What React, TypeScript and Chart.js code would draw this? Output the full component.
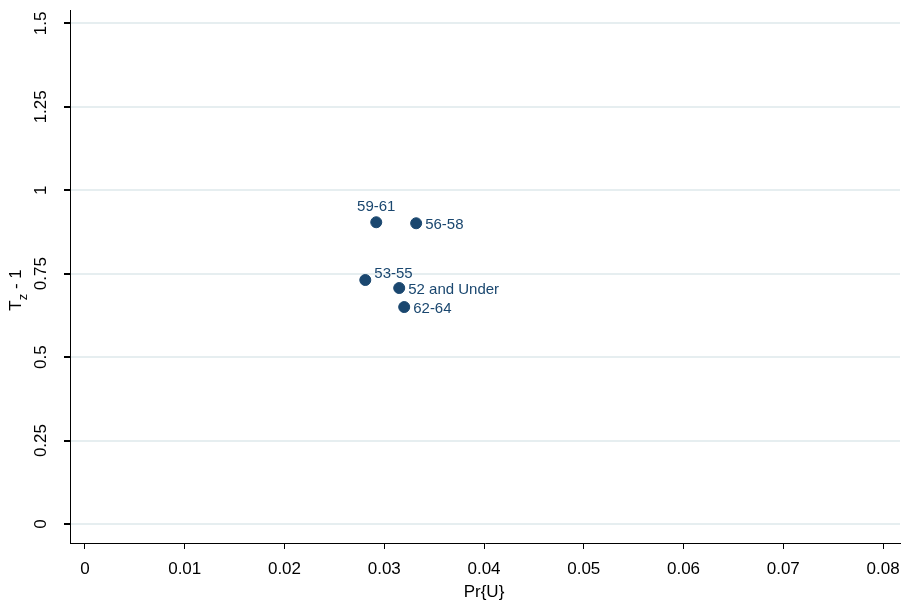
import { useEffect, useRef } from "react";
import { Chart, registerables } from "chart.js";

Chart.register(...registerables);

const groups = ["59-61", "56-58", "53-55", "52 and Under", "62-64"];
const prU = [0.0292, 0.0332, 0.0281, 0.0315, 0.032];
const tz = [0.904, 0.901, 0.731, 0.707, 0.65];
const labelDy = [0, 2, -6, 2, 2];
const labelAbove = [true, false, false, false, false];
const xTicks = [0, 0.01, 0.02, 0.03, 0.04, 0.05, 0.06, 0.07, 0.08];
const yTicks = [0, 0.25, 0.5, 0.75, 1, 1.25, 1.5];

const navy = "#1a476f";
const font = "Liberation Sans, Arial, sans-serif";

const overlay = {
  id: "overlay",
  afterDraw(chart: any) {
    const ctx = chart.ctx;
    const xs = chart.scales.x;
    const ys = chart.scales.y;
    ctx.save();
    // point labels
    ctx.fillStyle = navy;
    ctx.font = `15px ${font}`;
    const meta = chart.getDatasetMeta(0);
    meta.data.forEach((pt: any, i: number) => {
      if (labelAbove[i]) {
        ctx.textAlign = "center";
        ctx.textBaseline = "bottom";
        ctx.fillText(groups[i], pt.x, pt.y - 8);
      } else {
        ctx.textAlign = "left";
        ctx.textBaseline = "middle";
        ctx.fillText(groups[i], pt.x + 9, pt.y + labelDy[i]);
      }
    });
    // y tick labels, rotated
    ctx.fillStyle = "#000";
    ctx.font = `17px ${font}`;
    yTicks.forEach((v) => {
      const y = ys.getPixelForValue(v);
      ctx.save();
      ctx.translate(50, y);
      ctx.rotate(-Math.PI / 2);
      ctx.textAlign = "center";
      ctx.textBaseline = "bottom";
      ctx.fillText(String(v), 0, 0);
      ctx.restore();
    });
    // y title with subscript
    ctx.save();
    ctx.translate(25, 290);
    ctx.rotate(-Math.PI / 2);
    ctx.textBaseline = "bottom";
    ctx.textAlign = "left";
    ctx.font = `17px ${font}`;
    const w1 = ctx.measureText("T").width;
    ctx.font = `13px ${font}`;
    const w2 = ctx.measureText("z").width;
    ctx.font = `17px ${font}`;
    const w3 = ctx.measureText(" - 1").width;
    const start = -(w1 + w2 + w3) / 2;
    ctx.fillText("T", start, 0);
    ctx.font = `13px ${font}`;
    ctx.fillText("z", start + w1, 5);
    ctx.font = `17px ${font}`;
    ctx.fillText(" - 1", start + w1 + w2, 0);
    ctx.restore();
    // x title
    ctx.font = `17px ${font}`;
    ctx.textAlign = "center";
    ctx.textBaseline = "middle";
    ctx.fillText("Pr{U}", (xs.getPixelForValue(0) + xs.getPixelForValue(0.08)) / 2, 592);
    ctx.restore();
  },
};

export default function App() {
  const ref = useRef<HTMLCanvasElement | null>(null);

  useEffect(() => {
    if (!ref.current) return;
    const chart = new Chart(ref.current, {
      type: "scatter",
      data: {
        datasets: [
          {
            data: prU.map((x, i) => ({ x, y: tz[i] })),
            backgroundColor: navy,
            borderColor: navy,
            pointRadius: 5.5,
          },
        ],
      },
      options: {
        animation: false,
        responsive: true,
        maintainAspectRatio: false,
        layout: { padding: { left: 0, top: 10, right: 12, bottom: 0 } },
        plugins: { legend: { display: false }, tooltip: { enabled: false } },
        scales: {
          x: {
            type: "linear",
            min: -0.0015,
            max: 0.0817,
            afterBuildTicks: (s: any) => {
              s.ticks = xTicks.map((value) => ({ value }));
            },
            afterFit: (s: any) => {
              s.height = 63;
            },
            ticks: {
              color: "#000",
              font: { size: 17, family: font },
              maxRotation: 0,
              autoSkip: false,
              padding: 10,
              callback: (v: any) => String(v),
            },
            grid: { drawOnChartArea: false, tickLength: 6, tickColor: "#000" },
            border: { color: "#000" },
          },
          y: {
            type: "linear",
            min: -0.057,
            max: 1.54,
            afterBuildTicks: (s: any) => {
              s.ticks = yTicks.map((value) => ({ value }));
            },
            afterFit: (s: any) => {
              s.width = 70;
            },
            ticks: { display: false },
            grid: { color: "#e6eef0", lineWidth: 2, tickLength: 6, tickColor: "#000" },
            border: { color: "#000" },
          },
        },
      },
      plugins: [overlay],
    });
    return () => chart.destroy();
  }, []);

  return (
    <div style={{ position: "fixed", left: 0, top: 0, width: 912, height: 606, background: "#fff" }}>
      <canvas ref={ref} />
    </div>
  );
}
